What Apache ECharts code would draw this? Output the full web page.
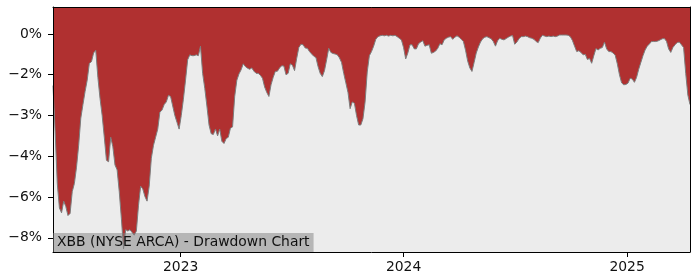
<!DOCTYPE html>
<html><head><meta charset="utf-8">
<script src="https://cdn.jsdelivr.net/npm/echarts@6/dist/echarts.min.js"></script>
<style>html,body{margin:0;padding:0;background:#fff}#c{width:700px;height:280px}</style>
</head><body><div id="c"></div>
<script>
const chartTitle = 'XBB (NYSE ARCA) - Drawdown Chart';
const firstDate = [2022, 5, 6];   // 2022-06-06
const stepDays = 3.5;             // half-week observations
const drawdown = [
  -1.9, -3.6, -5.5, -6.4, -6.58, -6.15, -6.35, -6.68, -6.6, -5.8,
  -5.5, -4.9, -4.1, -3.1, -2.6, -2.12, -1.7, -1.08, -1.02, -0.7,
  -0.6, -1.6, -2.37, -3.0, -3.8, -4.65, -4.7, -3.8, -4.15, -4.82,
  -5.0, -5.8, -6.8, -7.9, -7.2, -7.25, -7.2, -7.3, -7.4, -7.25,
  -6.3, -5.6, -5.7, -5.98, -6.15, -5.6, -4.57, -4.1, -3.8, -3.5,
  -2.88, -2.8, -2.6, -2.5, -2.26, -2.3, -2.65, -3.0, -3.25, -3.5,
  -3.0, -2.4, -1.7, -0.95, -0.77, -0.8, -0.8, -0.77, -0.8, -0.45,
  -1.45, -2.0, -2.65, -3.35, -3.67, -3.7, -3.5, -3.75, -3.5, -3.95,
  -4.03, -3.85, -3.8, -3.47, -3.42, -2.3, -1.7, -1.47, -1.32, -1.1,
  -1.2, -1.26, -1.3, -1.25, -1.37, -1.45, -1.45, -1.52, -1.63, -1.95,
  -2.15, -2.3, -1.87, -1.6, -1.38, -1.37, -1.25, -1.17, -1.18, -1.5,
  -1.45, -1.1, -1.15, -1.35, -0.9, -0.5, -0.38, -0.4, -0.52, -0.53,
  -0.65, -0.74, -0.82, -0.87, -1.2, -1.45, -1.57, -1.35, -0.95, -0.53,
  -0.68, -0.72, -0.74, -0.77, -0.88, -1.05, -1.45, -1.8, -2.15, -2.75,
  -2.5, -2.55, -3.0, -3.35, -3.35, -3.12, -2.5, -1.4, -0.8, -0.65,
  -0.45, -0.2, -0.1, -0.07, -0.05, -0.07, -0.05, -0.08, -0.05, -0.07,
  -0.05, -0.1, -0.16, -0.22, -0.5, -0.92, -0.7, -0.4, -0.4, -0.55,
  -0.55, -0.36, -0.3, -0.25, -0.45, -0.42, -0.4, -0.71, -0.68, -0.63,
  -0.53, -0.36, -0.4, -0.22, -0.16, -0.12, -0.1, -0.2, -0.12, -0.07,
  -0.12, -0.2, -0.28, -0.6, -1.0, -1.25, -1.38, -1.05, -0.7, -0.48,
  -0.3, -0.18, -0.12, -0.1, -0.14, -0.18, -0.28, -0.45, -0.25, -0.16,
  -0.2, -0.22, -0.17, -0.12, -0.08, -0.06, -0.38, -0.3, -0.18, -0.1,
  -0.1, -0.08, -0.1, -0.14, -0.16, -0.2, -0.28, -0.32, -0.15, -0.05,
  -0.08, -0.1, -0.08, -0.1, -0.08, -0.1, -0.08, -0.04, -0.04, -0.04,
  -0.04, -0.05, -0.1, -0.24, -0.45, -0.65, -0.62, -0.68, -0.77, -0.75,
  -0.94, -0.9, -1.08, -0.8, -0.54, -0.59, -0.53, -0.5, -0.3, -0.55,
  -0.65, -0.65, -0.7, -0.78, -1.1, -1.5, -1.8, -1.87, -1.86, -1.81,
  -1.63, -1.66, -1.78, -1.6, -1.3, -1.05, -0.8, -0.59, -0.45, -0.37,
  -0.28, -0.28, -0.28, -0.26, -0.22, -0.18, -0.17, -0.27, -0.55, -0.68,
  -0.5, -0.4, -0.32, -0.3, -0.4, -0.5, -1.45, -2.25, -2.6
];
const xTickLabels = ['2023', '2024', '2025'];
const yTickValues = [0, -1.5, -3, -4.5, -6, -7.5];
const yTickLabels = ['0%', '\u22122%', '\u22123%', '\u22124%', '\u22126%', '\u22128%'];

const DAY = 86400000;
const t0 = Date.UTC(firstDate[0], firstDate[1], firstDate[2]);
const points = drawdown.map((v, i) => [t0 + i * stepDays * DAY, v]);
const xTickValues = xTickLabels.map(y => Date.UTC(+y, 0, 1));
const FONT = 'DejaVu Sans';
const FS = 13.9;

const chart = echarts.init(document.getElementById('c'), null, {renderer: 'canvas'});
const pick = (vals, labels, v) => { const k = vals.findIndex(t => Math.abs(t - v) < 1e-6); return k >= 0 ? labels[k] : ''; };
const frameAxisX = (pos, show) => ({
  type: 'value', position: pos, min: points[0][0], max: points[points.length - 1][0], z: 10,
  axisLine: {show: true, onZero: false, lineStyle: {color: '#000', width: 1}},
  axisTick: {show: show, length: 5, inside: false, lineStyle: {color: '#000'}, customValues: xTickValues},
  axisLabel: {show: show, customValues: xTickValues, margin: 8, color: '#111', fontFamily: FONT, fontSize: FS,
    formatter: v => pick(xTickValues, xTickLabels, v)},
  splitLine: {show: false}
});
const frameAxisY = (pos, show) => ({
  type: 'value', position: pos, min: -8.02, max: 0.99, z: 10,
  axisLine: {show: true, onZero: false, lineStyle: {color: '#000', width: 1}},
  axisTick: {show: show, length: 5, inside: false, lineStyle: {color: '#000'}, customValues: yTickValues},
  axisLabel: {show: show, customValues: yTickValues, margin: 11, color: '#111', fontFamily: FONT, fontSize: FS,
    formatter: v => pick(yTickValues, yTickLabels, v)},
  splitLine: {show: false}
});
chart.setOption({
  animation: false,
  backgroundColor: '#fff',
  grid: {left: 53, right: 10, top: 7, bottom: 28, show: true, backgroundColor: '#ececec', borderWidth: 0, containLabel: false, outerBoundsMode: 'none'},
  title: {
    text: chartTitle, left: 53, top: 233, padding: [2, 4, 2, 4], z: 20,
    backgroundColor: 'rgba(128,128,128,0.5)',
    textStyle: {fontFamily: FONT, fontSize: FS, fontWeight: 'normal', color: '#111', lineHeight: 15}
  },
  xAxis: [frameAxisX('bottom', true), frameAxisX('top', false)],
  yAxis: [frameAxisY('left', true), frameAxisY('right', false)],
  series: [{
    type: 'line', data: points, xAxisIndex: 0, yAxisIndex: 0,
    symbol: 'none', showSymbol: false, clip: true,
    lineStyle: {color: '#7d7d7d', width: 1},
    areaStyle: {color: '#b03030', opacity: 1, origin: 'end'},
    z: 2
  }]
});
</script></body></html>
